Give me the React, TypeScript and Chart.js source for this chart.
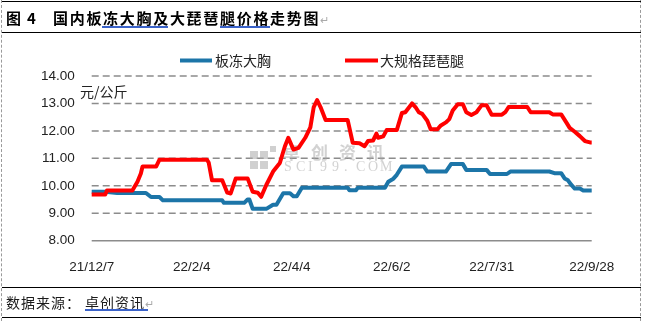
import React, { useEffect, useRef } from "react";
import { Chart, registerables } from "chart.js";

Chart.register(...registerables);

const titleLabel = "图";
const titleNum = "4";
const titleText = "国内板冻大胸及大琵琶腿价格走势图";
const sourceLabel = "数据来源：";
const sourceName = "卓创资讯";
const unitLabel = "元/公斤";
const seriesNames = ["板冻大胸", "大规格琵琶腿"];

const tickDays = [0, 59, 118, 177, 236, 295];
const tickLabels = ["21/12/7", "22/2/4", "22/4/4", "22/6/2", "22/7/31", "22/9/28"];

const blueDays = [0, 8, 15, 32, 35, 40, 42, 77, 78, 90, 92, 93, 95, 103, 107, 109, 113, 117, 119, 121, 124, 151, 152, 156, 157, 173, 175, 178, 180, 183, 196, 198, 209, 212, 219, 221, 233, 235, 245, 247, 270, 273, 277, 279, 281, 283, 285, 288, 290, 295];
const blueValues = [9.78, 9.78, 9.74, 9.74, 9.59, 9.59, 9.47, 9.47, 9.38, 9.38, 9.5, 9.5, 9.16, 9.16, 9.31, 9.31, 9.73, 9.73, 9.62, 9.62, 9.93, 9.93, 9.84, 9.84, 9.93, 9.93, 10.15, 10.26, 10.4, 10.7, 10.7, 10.52, 10.52, 10.79, 10.79, 10.58, 10.58, 10.43, 10.43, 10.52, 10.52, 10.46, 10.46, 10.27, 10.2, 10.03, 9.9, 9.9, 9.83, 9.83];

const redDays = [0, 8, 9, 24, 27, 29, 30, 38, 40, 68, 69, 71, 77, 80, 82, 85, 92, 95, 98, 100, 103, 107, 111, 114, 116, 119, 122, 126, 129, 131, 133, 135, 138, 151, 154, 158, 161, 163, 166, 168, 169, 172, 174, 180, 183, 185, 189, 191, 193, 195, 198, 200, 204, 206, 209, 211, 213, 216, 219, 221, 224, 227, 230, 233, 236, 242, 244, 246, 257, 259, 270, 272, 277, 280, 282, 285, 288, 291, 294, 295];
const redValues = [9.68, 9.68, 9.83, 9.83, 10.15, 10.45, 10.7, 10.7, 10.95, 10.95, 10.85, 10.2, 10.2, 9.75, 9.72, 10.27, 10.27, 9.78, 9.75, 9.6, 10.03, 10.52, 10.83, 11.44, 11.75, 11.32, 11.38, 11.75, 12.13, 12.87, 13.12, 12.87, 12.4, 12.4, 11.57, 11.55, 11.44, 11.63, 11.65, 11.9, 11.75, 11.8, 12.03, 12.03, 12.65, 12.68, 13.0, 12.87, 12.68, 12.62, 12.37, 12.06, 12.06, 12.2, 12.31, 12.43, 12.74, 12.97, 12.97, 12.68, 12.58, 12.68, 12.93, 12.93, 12.59, 12.59, 12.68, 12.87, 12.87, 12.68, 12.68, 12.6, 12.6, 12.31, 12.11, 11.97, 11.81, 11.63, 11.58, 11.58];

const BLUE = "#1C75A8";
const RED = "#FF0000";
const GRID = "#8c8c8c";
const TEXT = "#222";
const CJK = '"Noto Sans CJK SC", "Noto Sans", sans-serif';

const decorPlugin = {
  id: "decor",
  beforeDatasetsDraw(chart: any) {
    const { ctx, chartArea, scales } = chart;
    const ys = scales.y;
    ctx.save();
    ys.ticks.forEach((t: any) => {
      const y = ys.getPixelForValue(t.value);
      ctx.beginPath();
      ctx.lineWidth = 1.5;
      ctx.strokeStyle = GRID;
      ctx.setLineDash(t.value === ys.min ? [] : [7, 4]);
      ctx.moveTo(chartArea.left, y);
      ctx.lineTo(chartArea.right, y);
      ctx.stroke();
    });
    ctx.setLineDash([]);
    // watermark
    ctx.fillStyle = "rgba(170,170,170,0.55)";
    ctx.fillRect(250, 151, 8, 8);
    ctx.fillRect(260, 151, 8, 8);
    ctx.fillRect(250, 161, 8, 8);
    ctx.fillRect(260, 161, 8, 8);
    ctx.fillRect(270, 146, 6, 6);
    ctx.font = 'bold 17px ' + CJK;
    ctx.textBaseline = "middle";
    ctx.textAlign = "left";
    ctx.fillStyle = "rgba(165,165,165,0.5)";
    const wm = "卓创资讯";
    for (let i = 0; i < wm.length; i++) ctx.fillText(wm[i], 283 + i * 28, 153);
    ctx.font = '14px "Liberation Serif", serif';
    const wm2 = "SCI99.COM";
    for (let i = 0; i < wm2.length; i++) ctx.fillText(wm2[i], 284 + i * 12, 167);
    ctx.restore();
  },
  afterDraw(chart: any) {
    const { ctx } = chart;
    ctx.save();
    ctx.lineCap = "butt";
    ctx.lineWidth = 4;
    ctx.strokeStyle = BLUE;
    ctx.beginPath();
    ctx.moveTo(180, 60.5);
    ctx.lineTo(212, 60.5);
    ctx.stroke();
    ctx.strokeStyle = RED;
    ctx.beginPath();
    ctx.moveTo(345, 60.5);
    ctx.lineTo(378, 60.5);
    ctx.stroke();
    ctx.fillStyle = TEXT;
    ctx.font = "14px " + CJK;
    ctx.textBaseline = "middle";
    ctx.textAlign = "left";
    ctx.fillText(seriesNames[0], 215, 61);
    ctx.fillText(seriesNames[1], 380, 61);
    ctx.fillText(unitLabel, 80, 92);
    ctx.restore();
  },
};

export default function App() {
  const ref = useRef<HTMLCanvasElement | null>(null);
  useEffect(() => {
    if (!ref.current) return;
    const chart = new Chart(ref.current, {
      type: "line",
      data: {
        datasets: [
          {
            label: seriesNames[0],
            data: blueDays.map((d, i) => ({ x: d, y: blueValues[i] })),
            borderColor: BLUE,
            borderWidth: 4,
            pointRadius: 0,
            tension: 0,
            borderJoinStyle: "round",
            borderCapStyle: "round",
            order: 1,
          },
          {
            label: seriesNames[1],
            data: redDays.map((d, i) => ({ x: d, y: redValues[i] })),
            borderColor: RED,
            borderWidth: 4,
            pointRadius: 0,
            tension: 0,
            borderJoinStyle: "round",
            borderCapStyle: "round",
            order: 0,
          },
        ],
      },
      options: {
        responsive: false,
        animation: false,
        devicePixelRatio: 1,
        layout: { padding: { left: 0, top: 76, right: 53.3, bottom: 40.3 } },
        plugins: { legend: { display: false }, tooltip: { enabled: false } },
        scales: {
          x: {
            type: "linear",
            min: 0,
            max: 295,
            grid: { display: false },
            border: { display: false },
            afterBuildTicks: (s: any) => {
              s.ticks = tickDays.map((v) => ({ value: v }));
            },
            afterFit: (s: any) => {
              s.height = 40;
            },
            ticks: {
              autoSkip: false,
              maxRotation: 0,
              padding: 10,
              color: TEXT,
              font: { family: '"Liberation Sans", sans-serif', size: 13.5 },
              callback: (v: any) => {
                const i = tickDays.indexOf(Number(v));
                return i >= 0 ? tickLabels[i] : "";
              },
            },
          },
          y: {
            min: 8,
            max: 14,
            grid: { display: false, drawTicks: false },
            border: { display: false },
            afterFit: (s: any) => {
              s.width = 91.7;
            },
            ticks: {
              stepSize: 1,
              padding: 17,
              color: TEXT,
              font: { family: '"Liberation Sans", sans-serif', size: 13.5 },
              callback: (v: any) => Number(v).toFixed(2),
            },
          },
        },
      },
      plugins: [decorPlugin],
    } as any);
    return () => chart.destroy();
  }, []);

  const hLine = (top: number) => (
    <div style={{ position: "absolute", left: 2, width: 639, top, height: 1, background: "#000" }} />
  );
  const ul = (left: number, width: number, top: number) => (
    <div style={{ position: "absolute", left, width, top, height: 2, background: "#3a62c9" }} />
  );

  return (
    <div style={{ position: "fixed", left: 0, top: 0, width: 645, height: 321, background: "#fff", overflow: "hidden" }}>
      <canvas ref={ref} width={645} height={321} style={{ position: "absolute", left: 0, top: 0, width: 645, height: 321 }} />
      <div style={{ position: "absolute", left: 1, top: 0, width: 0, height: 321, borderLeft: "1px dashed #9a9a9a" }} />
      <div style={{ position: "absolute", left: 640, top: 0, width: 0, height: 321, borderLeft: "1px dashed #9a9a9a" }} />
      {hLine(1)}
      {hLine(32)}
      {hLine(287)}
      {hLine(317)}
      <span style={{ position: "absolute", left: 6, top: 10, lineHeight: "16px", fontSize: 15, fontWeight: 700, fontFamily: CJK, color: "#000", whiteSpace: "nowrap" }}>{titleLabel}</span>
      <span style={{ position: "absolute", left: 27, top: 10, lineHeight: "16px", fontSize: 15, fontWeight: 700, fontFamily: CJK, color: "#000", whiteSpace: "nowrap" }}>{titleNum}</span>
      <span style={{ position: "absolute", left: 53, top: 10, lineHeight: "16px", fontSize: 15, fontWeight: 700, letterSpacing: "1.7px", fontFamily: CJK, color: "#000", whiteSpace: "nowrap" }}>
        {titleText}
        <span style={{ fontWeight: 400, fontSize: 11, color: "#aaa", letterSpacing: 0 }}>↵</span>
      </span>
      {ul(102, 66, 26)}
      {ul(220, 50, 26)}
      <span style={{ position: "absolute", left: 6, top: 294, lineHeight: "16px", fontSize: 14, letterSpacing: "1px", fontFamily: CJK, color: "#1a1a1a", whiteSpace: "nowrap" }}>{sourceLabel}</span>
      <span style={{ position: "absolute", left: 85, top: 294, lineHeight: "16px", fontSize: 14, letterSpacing: "1px", fontFamily: CJK, color: "#1a1a1a", whiteSpace: "nowrap" }}>
        {sourceName}
        <span style={{ fontSize: 11, color: "#aaa", letterSpacing: 0 }}>↵</span>
      </span>
      {ul(85, 63, 309)}
    </div>
  );
}
